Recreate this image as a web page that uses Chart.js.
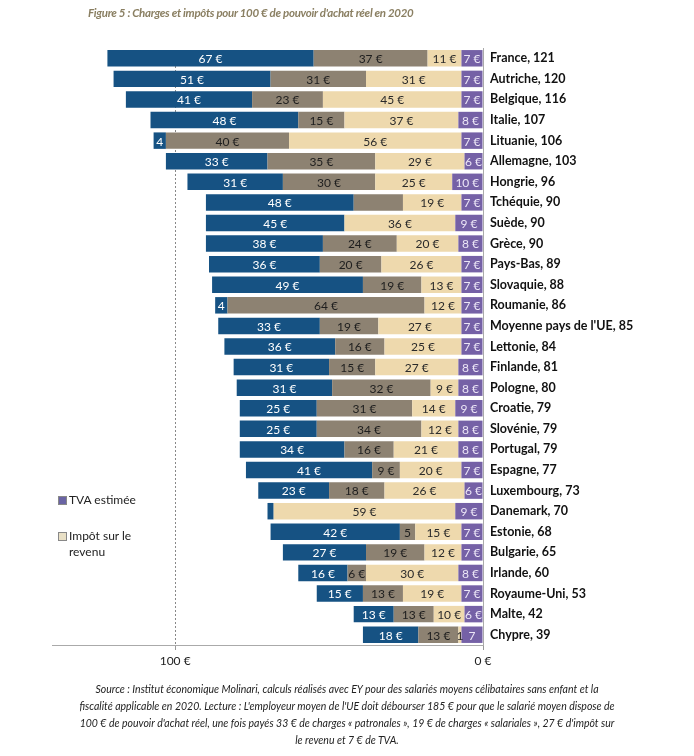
<!DOCTYPE html>
<html lang="fr">
<head>
<meta charset="UTF-8">
<title>Charges et impôts pour 100 € de pouvoir d'achat réel en 2020</title>
<script src="https://cdn.jsdelivr.net/npm/chart.js@4.4.1/dist/chart.umd.min.js"></script>
<style>
  body { margin: 0; background: #fff; }
  #page { position: relative; width: 694px; height: 756px; font-family: Lato, "Open Sans", sans-serif; }
  #titre { position: absolute; left: 88px; top: 6px; white-space: nowrap; letter-spacing: -0.3px;
           font: italic bold 11.5px Lato, sans-serif; color: #8a7f62; }
  #legende { position: absolute; left: 58px; top: 492px; font-size: 12px; color: #222; line-height: 16px; }
  #legende div { position: relative; padding-left: 11px; margin-bottom: 20px; width: 80px; }
  #legende span { position: absolute; left: 0; top: 4px; width: 7px; height: 7px; border: 1px solid #888; }
  #source { position: absolute; left: 0; top: 681px; width: 694px; text-align: center;
            font: italic 10.5px Lato, sans-serif; color: #222; line-height: 17px; }
</style>
</head>
<body>
<div id="page">
  <div id="titre">Figure 5 : Charges et impôts pour 100 € de pouvoir d'achat réel en 2020</div>
  <canvas id="graphique" width="694" height="756"></canvas>
  <div id="legende">
    <div><span style="background:#6a64a4"></span>TVA estimée</div>
    <div><span style="background:#e9e0c6"></span>Impôt sur le revenu</div>
  </div>
  <div id="source">
    Source : Institut économique Molinari, calculs réalisés avec EY pour des salariés moyens célibataires sans enfant et la<br>
    fiscalité applicable en 2020. Lecture : L'employeur moyen de l'UE doit débourser 185 € pour que le salarié moyen dispose de<br>
    100 € de pouvoir d'achat réel, une fois payés 33 € de charges « patronales », 19 € de charges « salariales », 27 € d'impôt sur<br>
    le revenu et 7 € de TVA.
  </div>
</div>

<script>
  // Données (du haut vers le bas)
  const pays = ['France, 121', 'Autriche, 120', 'Belgique, 116', 'Italie, 107', 'Lituanie, 106', 'Allemagne, 103',
    'Hongrie, 96', 'Tchéquie, 90', 'Suède, 90', 'Grèce, 90', 'Pays-Bas, 89', 'Slovaquie, 88', 'Roumanie, 86',
    "Moyenne pays de l'UE, 85", 'Lettonie, 84', 'Finlande, 81', 'Pologne, 80', 'Croatie, 79', 'Slovénie, 79',
    'Portugal, 79', 'Espagne, 77', 'Luxembourg, 73', 'Danemark, 70', 'Estonie, 68', 'Bulgarie, 65', 'Irlande, 60',
    'Royaume-Uni, 53', 'Malte, 42', 'Chypre, 39'];

  const chargesPatronales = [67, 51, 41, 48, 4, 33, 31, 48, 45, 38, 36, 49, 4, 33, 36, 31, 31, 25, 25, 34, 41, 23, 2, 42, 27, 16, 15, 13, 18];
  const chargesSalariales = [37, 31, 23, 15, 40, 35, 30, 16, 0, 24, 20, 19, 64, 19, 16, 15, 32, 31, 34, 16, 9, 18, 0, 5, 19, 6, 13, 13, 13];
  const impotRevenu = [11, 31, 45, 37, 56, 29, 25, 19, 36, 20, 26, 13, 12, 27, 25, 27, 9, 14, 12, 21, 20, 26, 59, 15, 12, 30, 19, 10, 1];
  const tva = [7, 7, 7, 8, 7, 6, 10, 7, 9, 8, 7, 7, 7, 7, 7, 8, 8, 9, 8, 8, 7, 6, 9, 7, 7, 8, 7, 6, 7];

  const ticksX = [100, 0];

  // étiquettes affichées sans "€" ou masquées, comme sur l'original
  const sansEuro = [['patronales', 4], ['patronales', 12], ['salariales', 23], ['impot', 28], ['tva', 28]];
  const masquees = [['salariales', 7], ['patronales', 22]];

  const trouve = (liste, cle, j) => liste.some(e => e[0] === cle && e[1] === j);

  const etiquettes = {
    id: 'etiquettes',
    afterDatasetsDraw(chart) {
      const ctx = chart.ctx;
      ctx.save();
      ctx.font = '12px Lato';
      ctx.textAlign = 'center';
      ctx.textBaseline = 'middle';
      chart.data.datasets.forEach((ds, i) => {
        chart.getDatasetMeta(i).data.forEach((bar, j) => {
          const v = ds.data[j];
          if (!v || trouve(masquees, ds.cle, j)) return;
          const txt = trouve(sansEuro, ds.cle, j) ? String(v) : v + ' €';
          ctx.fillStyle = ds.couleurTexte;
          ctx.fillText(txt, (bar.x + bar.base) / 2, bar.y + 1);
        });
      });
      ctx.restore();
    }
  };

  const commun = { barPercentage: 0.8, categoryPercentage: 1 };

  new Chart(document.getElementById('graphique'), {
    type: 'bar',
    data: {
      labels: pays,
      datasets: [
        { ...commun, cle: 'tva', label: 'TVA estimée', data: tva, backgroundColor: '#7561a6', couleurTexte: '#ece6f7' },
        { ...commun, cle: 'impot', label: 'Impôt sur le revenu', data: impotRevenu, backgroundColor: '#eed9ad', couleurTexte: '#2a2a2a' },
        { ...commun, cle: 'salariales', label: 'Charges salariales', data: chargesSalariales, backgroundColor: '#8d8272', couleurTexte: '#1e1e1e' },
        { ...commun, cle: 'patronales', label: 'Charges patronales', data: chargesPatronales, backgroundColor: '#165283', couleurTexte: '#ffffff' }
      ]
    },
    options: {
      indexAxis: 'y',
      responsive: false,
      animation: false,
      layout: { padding: { left: 52, top: 48, right: 0, bottom: 81 } },
      plugins: { legend: { display: false }, tooltip: { enabled: false } },
      scales: {
        x: {
          stacked: true,
          reverse: true,
          min: 0,
          max: 140,
          afterBuildTicks: s => { s.ticks = ticksX.map(v => ({ value: v })); },
          afterFit: s => { s.height = 30; },
          ticks: { callback: v => v + ' €', color: '#222', font: { family: 'Lato', size: 12 }, padding: 4 },
          grid: {
            color: ctx => ctx.tick && ctx.tick.value === 100 ? '#888' : 'rgba(0,0,0,0)',
            tickColor: '#999',
            tickLength: 5,
            drawOnChartArea: true
          },
          border: { display: true, color: '#aaa', dash: [] }
        },
        y: {
          stacked: true,
          position: 'right',
          afterFit: s => { s.width = 211; },
          ticks: { color: '#111', font: { family: 'Lato', size: 12.5, weight: 'bold' }, padding: 7, autoSkip: false },
          grid: { display: false, drawTicks: false },
          border: { display: true, color: '#aaa' }
        }
      }
    },
    plugins: [etiquettes, {
      id: 'pointilles',
      beforeDatasetsDraw(chart) {
        // ligne pointillée à 100 €
        const { ctx, chartArea, scales } = chart;
        const x = scales.x.getPixelForValue(100);
        ctx.save();
        ctx.strokeStyle = '#fff';
        ctx.lineWidth = 2;
        ctx.setLineDash([2, 2]);
        ctx.beginPath();
        ctx.moveTo(x, chartArea.top);
        ctx.lineTo(x, chartArea.bottom);
        ctx.stroke();
        ctx.restore();
      }
    }]
  });
</script>
</body>
</html>
